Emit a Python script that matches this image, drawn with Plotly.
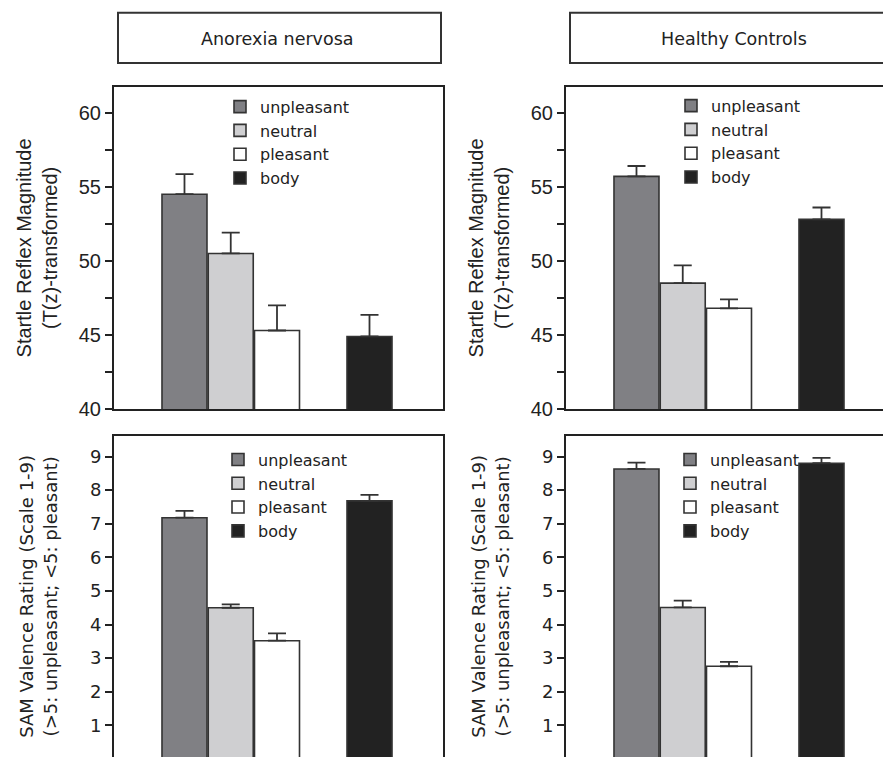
import plotly.graph_objects as go

W, H = 883, 768

categories = ["unpleasant", "neutral", "pleasant", "body"]
group_titles = ["Anorexia nervosa", "Healthy Controls"]

an_startle = [54.5, 50.5, 45.3, 44.9]
an_startle_err = [1.35, 1.4, 1.7, 1.45]
hc_startle = [55.7, 48.5, 46.8, 52.8]
hc_startle_err = [0.7, 1.2, 0.6, 0.8]

an_sam = [7.18, 4.5, 3.52, 7.68]
an_sam_err = [0.2, 0.1, 0.22, 0.18]
hc_sam = [8.63, 4.51, 2.76, 8.8]
hc_sam_err = [0.19, 0.2, 0.13, 0.16]

startle_ticks = [40, 45, 50, 55, 60]
sam_ticks = [1, 2, 3, 4, 5, 6, 7, 8, 9]

colors = ["#808084", "#cfcfd1", "#ffffff", "#222222"]
positions = [0, 1, 2, 4]
bar_width = 0.973

def px_x(p):
    return p / W

def px_y(p):
    return 1 - p / H

fig = go.Figure()

panels = [
    (an_startle, an_startle_err, "x", "y", "legend"),
    (hc_startle, hc_startle_err, "x2", "y2", "legend2"),
    (an_sam, an_sam_err, "x3", "y3", "legend3"),
    (hc_sam, hc_sam_err, "x4", "y4", "legend4"),
]

for vals, errs, xa, ya, lg in panels:
    for i, cat in enumerate(categories):
        fig.add_trace(go.Bar(
            x=[positions[i]], y=[vals[i]], width=bar_width,
            name=cat, xaxis=xa, yaxis=ya, legend=lg,
            marker=dict(color=colors[i], line=dict(color="#333333", width=1.6)),
            error_y=dict(type="data", symmetric=False, array=[errs[i]], arrayminus=[0],
                         color="#333333", thickness=1.8, width=9),
        ))

line_c = "#222222"
xl_dom = [px_x(114), px_x(443)]
xr_dom = [px_x(566), 1.0]
top_dom = [px_y(415), px_y(88)]
bot_dom = [0.0, px_y(442)]

xl_range = [-1.524, 5.589]
xr_range = [-1.524, 5.33]

common_x = dict(showticklabels=False, ticks="", showgrid=False, zeroline=False,
                showline=True, linecolor=line_c, linewidth=2, fixedrange=True)

fig.update_layout(
    xaxis=dict(domain=xl_dom, range=xl_range, anchor="y", mirror=True, **common_x),
    xaxis2=dict(domain=xr_dom, range=xr_range, anchor="y2", mirror=True, **common_x),
    xaxis3=dict(domain=xl_dom, range=xl_range, anchor="y3", side="top", **common_x),
    xaxis4=dict(domain=xr_dom, range=xr_range, anchor="y4", side="top", **common_x),
)

top_y = dict(domain=top_dom, range=[40, 61.75], tickvals=startle_ticks,
             ticks="outside", ticklen=7, tickwidth=1.5, tickcolor=line_c,
             minor=dict(dtick=2.5, tick0=40, ticks="outside", ticklen=7, tickwidth=1.5, tickcolor=line_c),
             showline=True, linecolor=line_c, linewidth=2, showgrid=False, zeroline=False,
             tickfont=dict(family="Liberation Sans, Arial", size=20, color="#222"),
             title=dict(text="Startle Reflex Magnitude<br>(T(z)-transformed)",
                        font=dict(family="Liberation Sans, Arial", size=20, color="#222"),
                        standoff=16),
             fixedrange=True)
bot_y = dict(domain=bot_dom, range=[0.06, 9.62], tickvals=sam_ticks,
             ticks="outside", ticklen=7, tickwidth=1.5, tickcolor=line_c,
             showline=True, linecolor=line_c, linewidth=2, showgrid=False, zeroline=False,
             tickfont=dict(family="DejaVu Sans", size=18, color="#222"),
             title=dict(text="SAM Valence Rating (Scale 1-9)<br>(>5: unpleasant; <5: pleasant)",
                        font=dict(family="DejaVu Sans", size=18, color="#222"),
                        standoff=28),
             fixedrange=True)

fig.update_layout(
    yaxis=dict(anchor="x", mirror=True, **top_y),
    yaxis2=dict(anchor="x2", **top_y),
    yaxis3=dict(anchor="x3", mirror=True, **bot_y),
    yaxis4=dict(anchor="x4", **bot_y),
)

leg_font = dict(family="DejaVu Sans", size=16, color="#222")
def leg(xp, yp):
    return dict(x=px_x(xp), y=px_y(yp), xanchor="left", yanchor="top",
                bgcolor="rgba(0,0,0,0)", font=leg_font, tracegroupgap=0,
                itemclick=False, itemdoubleclick=False)

fig.update_layout(
    legend=leg(220, 91),
    legend2=leg(671, 90),
    legend3=leg(218, 449),
    legend4=leg(670, 449),
)

# title boxes
box_font = dict(family="DejaVu Sans", size=17.5, color="#222")
fig.add_shape(type="rect", xref="paper", yref="paper",
              x0=px_x(118), x1=px_x(441), y0=px_y(64), y1=px_y(13),
              line=dict(color="#333333", width=2))
fig.add_shape(type="rect", xref="paper", yref="paper",
              x0=px_x(570), x1=px_x(895), y0=px_y(64), y1=px_y(13),
              line=dict(color="#333333", width=2))
fig.add_annotation(text=group_titles[0], xref="paper", yref="paper",
                   x=px_x(277), y=px_y(40), xanchor="center", yanchor="middle",
                   showarrow=False, font=box_font)
fig.add_annotation(text=group_titles[1], xref="paper", yref="paper",
                   x=px_x(733.5), y=px_y(40), xanchor="center", yanchor="middle",
                   showarrow=False, font=box_font)

fig.update_layout(
    width=W, height=H,
    margin=dict(l=0, r=0, t=0, b=0),
    paper_bgcolor="white", plot_bgcolor="white",
    barmode="overlay",
)

fig.write_html("out.html", config={"displayModeBar": False},
               post_script="document.body.style.margin='0';document.body.style.overflow='hidden';")
